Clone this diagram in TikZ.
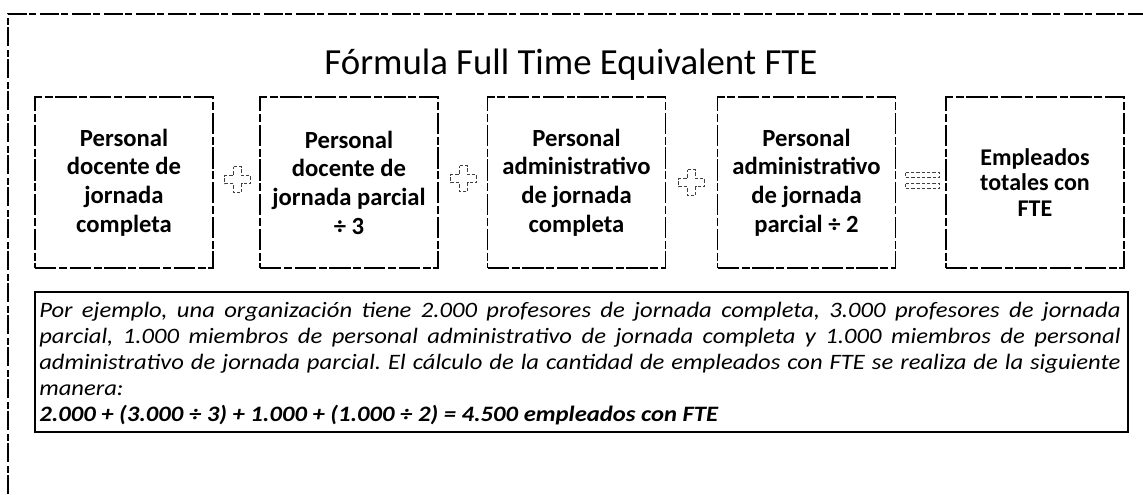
\documentclass[tikz,border=0pt]{standalone}
\usepackage{fontspec}
\setmainfont{Carlito}
\newfontfamily\notefont[FakeStretch=1.12]{Carlito}
\usetikzlibrary{calc}
\begin{document}
\begin{tikzpicture}[x=0.75pt,y=-0.75pt,
  framestyle/.style={line width=0.8pt, dash pattern=on 14pt off 2pt on 5pt off 3pt},
  stepbox/.style={draw, line width=0.9pt, dash pattern=on 16pt off 2pt on 6pt off 2pt,
    minimum width=133.5pt, minimum height=128.25pt, inner sep=0pt,
    align=center, font=\fontsize{18.5}{21.5}\selectfont\bfseries},
  endbox/.style={stepbox, font=\fontsize{18}{19}\selectfont\bfseries},
  opstyle/.style={draw=black!75, line width=0.6pt, dash pattern=on 2.5pt off 1.5pt},
  notebox/.style={draw, line width=1pt, minimum width=819.75pt, minimum height=105pt, inner sep=0pt},
  plussign/.pic={\path[opstyle] (-4,-13)--(4,-13)--(4,-4)--(13,-4)--(13,4)--(4,4)--(4,13)--(-4,13)--(-4,4)--(-13,4)--(-13,-4)--(-4,-4)--cycle;},
  eqsign/.pic={\path[opstyle] (-17,-8) rectangle (17,-3); \path[opstyle] (-17,3) rectangle (17,8);}
]
\useasboundingbox (0,0) rectangle (1143,494);
% outer frame (top and left edges only)
\coordinate (fl) at (8,494);
\coordinate (ftl) at (8,14);
\coordinate (ftr) at (1143,14);
\draw[framestyle] (fl) -- (ftl) -- (ftr);
% title
\node[font=\fontsize{27.6}{32}\selectfont] (title) at (571,65) {Fórmula Full Time Equivalent FTE};
% boxes
\node[stepbox] (b1) at (124,182.5) {Personal\\docente de\\jornada\\completa};
\node[stepbox] (b2) at (349,182.5) {Personal\\docente de\\jornada parcial\\÷ 3};
\node[stepbox] (b3) at (576.5,182.5) {Personal\\administrativo\\de jornada\\completa};
\node[stepbox] (b4) at (806.5,182.5) {Personal\\administrativo\\de jornada\\parcial ÷ 2};
\node[endbox] (b5) at (1035,182.5) {Empleados\\totales con\\FTE};
% operators
\coordinate (p1) at ($(b1.east)!0.5!(b2.west)+(1,-3)$);
\coordinate (p2) at ($(b2.east)!0.5!(b3.west)+(1,-4)$);
\coordinate (p3) at ($(b3.east)!0.5!(b4.west)$);
\coordinate (p4) at ($(b4.east)!0.5!(b5.west)+(2,-2)$);
\pic at (p1) {plussign};
\pic at (p2) {plussign};
\pic at (p3) {plussign};
\pic at (p4) {eqsign};
% note box
\node[notebox] (note) at (581.5,362) {};
\node[anchor=base west, inner sep=0pt] (notetext) at (39,317) {\parbox[t]{811pt}{\frenchspacing\notefont\fontsize{16.5}{19.6}\selectfont\itshape
Por ejemplo, una organización tiene 2.000 profesores de jornada completa, 3.000 profesores de jornada\linebreak
parcial, 1.000 miembros de personal administrativo de jornada completa y 1.000 miembros de personal\linebreak
administrativo de jornada parcial. El cálculo de la cantidad de empleados con FTE se realiza de la siguiente\linebreak
manera:\newline
\textbf{2.000 + (3.000 ÷ 3) + 1.000 + (1.000 ÷ 2) = 4.500 empleados con FTE}}};
\end{tikzpicture}
\end{document}
